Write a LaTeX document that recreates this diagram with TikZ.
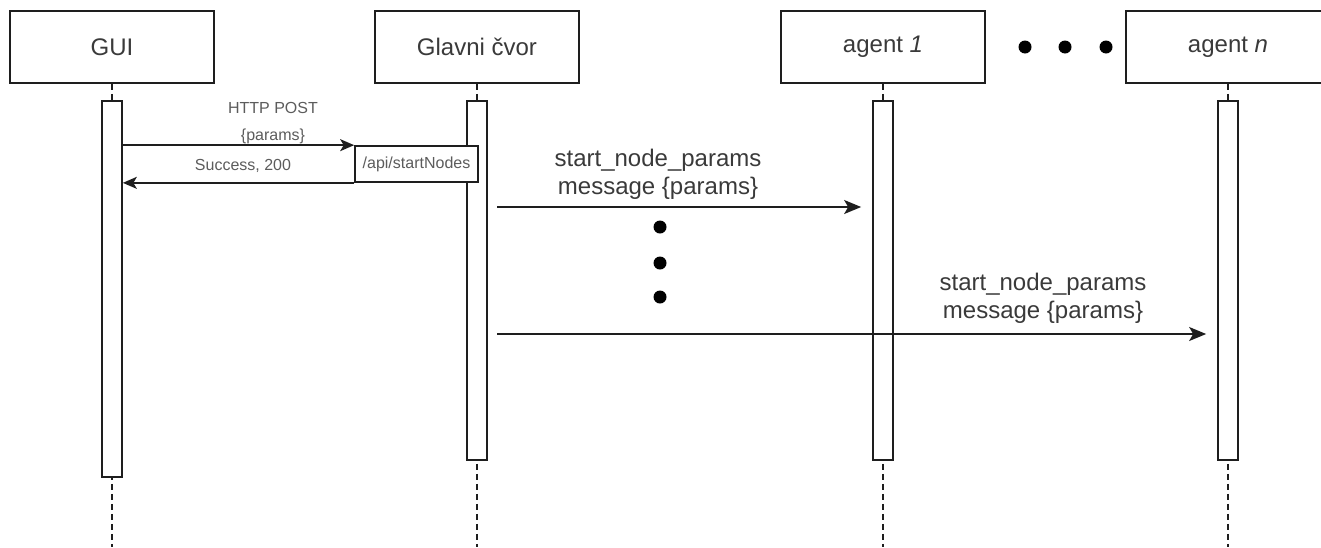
\documentclass[tikz,border=0pt]{standalone}
\usepackage{fontspec}
\setmainfont{Liberation Sans}
\usetikzlibrary{arrows.meta,calc}

\definecolor{ink}{HTML}{1E1E1E}
\definecolor{txtmain}{HTML}{3A3A3A}
\definecolor{txtsmall}{HTML}{5C5C5C}

\begin{document}
\begin{tikzpicture}[x=1pt,y=-1pt,
  participant/.style={draw=ink, line width=1.7pt, fill=white, minimum width=204pt,
    minimum height=72pt, inner sep=0pt, text=txtmain,
    font=\fontsize{24}{28}\selectfont},
  activation/.style={draw=ink, line width=1.7pt, fill=white, minimum width=20pt,
    inner sep=0pt},
  lifeline/.style={draw=ink, line width=1.6pt, dash pattern=on 6pt off 4pt},
  bigmsg/.style={draw=ink, line width=1.7pt,
    -{Stealth[length=17pt,width=14pt,inset=4pt]}},
  smallmsg/.style={draw=ink, line width=1.7pt,
    -{Stealth[length=14pt,width=12pt,inset=3.5pt]}},
  biglabel/.style={text=txtmain, align=center, inner sep=0pt,
    font=\fontsize{24}{28}\selectfont},
  smalllabel/.style={text=txtsmall, inner sep=0pt,
    font=\fontsize{16}{19}\selectfont},
  ellipsisdot/.style={circle, fill=black, minimum size=13pt, inner sep=0pt}
]
\useasboundingbox (0,0) rectangle (1321,547);
\clip (0,0) rectangle (1321,547);

% participants
\node[participant] (gui)   at (112,47)  {GUI};
\node[participant] (main)  at (477,47)  {Glavni čvor};
\node[participant] (ag1)   at (883,47)  {agent \textit{1}};
\node[participant] (agn)   at (1228,47) {agent \textit{n}};

% ellipsis between agents
\node[ellipsisdot] (hd1) at (1025,47) {};
\node[ellipsisdot] (hd2) at (1065,47) {};
\node[ellipsisdot] (hd3) at (1106,47) {};

% lifeline ends
\coordinate (guiend)  at (112,547);
\coordinate (mainend) at (477,547);
\coordinate (ag1end)  at (883,547);
\coordinate (agnend)  at (1228,547);

% dashed lifelines (activations are drawn on top)
\draw[lifeline] (gui.south)  -- (guiend);
\draw[lifeline] (main.south) -- (mainend);
\draw[lifeline] (ag1.south)  -- (ag1end);
\draw[lifeline] (agn.south)  -- (agnend);

% activation bars
\node[activation, minimum height=376pt] (guiact)  at (112,289)   {};
\node[activation, minimum height=359pt] (mainact) at (477,280.5) {};
\node[activation, minimum height=359pt] (ag1act)  at (883,280.5) {};
\node[activation, minimum height=359pt] (agnact)  at (1228,280.5) {};

% REST endpoint box
\node[draw=ink, line width=1.7pt, fill=white, minimum width=123pt, minimum height=36pt,
  inner sep=0pt, text=txtsmall, font=\fontsize{16}{19}\selectfont]
  (api) at (416.5,164) {/api/startNodes};

% HTTP request / response
\draw[smallmsg] (api.north west -| guiact.east) -- (api.north west);
\draw[smallmsg] (api.south west) -- (api.south west -| guiact.east);
\node[smalllabel] (reqa) at (273,108) {HTTP POST};
\node[smalllabel] (reqb) at (273,136) {\{params\}};
\node[smalllabel] (resp) at (243,166) {Success, 200};

% messages to agents
\coordinate (m1) at (487,207);
\coordinate (m2) at (487,334);
\draw[bigmsg, shorten <=10pt, shorten >=11pt] (m1) -- (m1 -| ag1act.west);
\draw[bigmsg, shorten <=10pt, shorten >=11pt] (m2) -- (m2 -| agnact.west);
\node[biglabel] (lab1) at (658,174)  {start\_node\_params\\message \{params\}};
\node[biglabel] (lab2) at (1043,298) {start\_node\_params\\message \{params\}};

% vertical ellipsis between the messages
\node[ellipsisdot] (vd1) at (660,227) {};
\node[ellipsisdot] (vd2) at (660,263) {};
\node[ellipsisdot] (vd3) at (660,297) {};
\end{tikzpicture}
\end{document}
